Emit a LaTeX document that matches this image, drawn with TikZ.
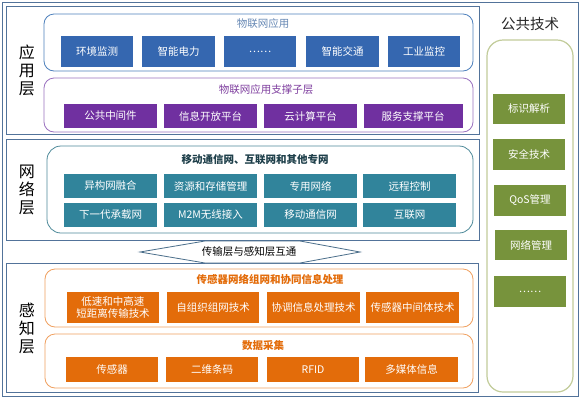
\documentclass[tikz,border=0pt]{standalone}
\usepackage{fontspec}
\setmainfont{Noto Sans CJK SC}
\definecolor{framec}{HTML}{52739A}
\definecolor{bluef}{HTML}{3567B0}
\definecolor{bluel}{HTML}{4F81BD}
\definecolor{bluet}{HTML}{6688B4}
\definecolor{purf}{HTML}{7030A0}
\definecolor{purl}{HTML}{9B72C0}
\definecolor{purt}{HTML}{7F3F9F}
\definecolor{tealf}{HTML}{31849B}
\definecolor{teall}{HTML}{4E8A9A}
\definecolor{tealt}{HTML}{1E3F4A}
\definecolor{oranf}{HTML}{E36C0A}
\definecolor{oranl}{HTML}{F0A060}
\definecolor{grnf}{HTML}{77933C}
\definecolor{grnl}{HTML}{C2CC9A}
\definecolor{arrl}{HTML}{4A6E8A}
\tikzset{
  cell/.style={inner sep=0pt, text=white, font=\fontsize{10.5}{12}\selectfont, align=center},
  bluebox/.style={cell, fill=bluef, minimum width=72.5pt, minimum height=31pt},
  purbox/.style={cell, fill=purf, minimum width=93pt, minimum height=24pt},
  tealbox/.style={cell, fill=tealf, minimum width=93pt, minimum height=24pt},
  oranbox/.style={cell, fill=oranf, minimum width=92.5pt},
  grnbox/.style={cell, fill=grnf, minimum width=72pt, minimum height=30.5pt},
  layer/.style={draw=framec, line width=0.8pt},
  cont/.style={line width=0.8pt, rounded corners=10pt},
  title/.style={inner sep=0pt, font=\fontsize{10.5}{12}\selectfont},
  lab/.style={inner sep=0pt, align=center, font=\fontsize{16}{18}\selectfont}
}
\begin{document}
\begin{tikzpicture}[x=1pt,y=-1pt]
\useasboundingbox (0,0) rectangle (582,400);
\fill[white] (0,0) rectangle (582,400);
% frames
\draw[framec, line width=0.8pt] (2,2) rectangle (578,396);
\draw[layer] (6,6) rectangle (479,134);
\draw[layer] (6,139) rectangle (479,240);
\draw[layer] (6,263) rectangle (478,392);
% layer labels
\node[lab] (l1) at (27,70) {应\\用\\层};
\node[lab] (l2) at (27,190) {网\\络\\层};
\node[lab] (l3) at (27,328) {感\\知\\层};
% application layer
\draw[cont, draw=bluel] (44,14) rectangle (473,71);
\node[title, text=bluet] (t1) at (263,24) {物联网应用};
\node[bluebox] (a1) at (97,51.5) {环境监测};
\node[bluebox] (a2) at (178.5,51.5) {智能电力};
\node[bluebox] (a3) at (260,51.5) {……};
\node[bluebox] (a4) at (342.5,51.5) {智能交通};
\node[bluebox] (a5) at (424,51.5) {工业监控};
\draw[cont, draw=purl] (44,78) rectangle (473,132);
\node[title, text=purt] (t2) at (266,90) {物联网应用支撑子层};
\node[purbox] (p1) at (110.5,116) {公共中间件};
\node[purbox] (p2) at (210.5,116) {信息开放平台};
\node[purbox] (p3) at (310.5,116) {云计算平台};
\node[purbox, minimum width=99pt] (p4) at (413,116) {服务支撑平台};
% network layer
\draw[cont, draw=teall, rounded corners=14pt] (47,146) rectangle (473,233);
\node[title, text=tealt, font=\fontsize{10.5}{12}\selectfont\bfseries] (t3) at (255,160) {移动通信网、互联网和其他专网};
\node[tealbox] (n1) at (110.5,186) {异构网融合};
\node[tealbox] (n2) at (210.5,186) {资源和存储管理};
\node[tealbox] (n3) at (310.5,186) {专用网络};
\node[tealbox] (n4) at (409.5,186) {远程控制};
\node[tealbox] (n5) at (110.5,215) {下一代承载网};
\node[tealbox] (n6) at (210.5,215) {M2M无线接入};
\node[tealbox] (n7) at (310.5,215) {移动通信网};
\node[tealbox] (n8) at (409.5,215) {互联网};
% interconnect arrow
\draw[draw=arrl, fill=white, line width=0.8pt] (140,252) -- (205,241) -- (300,241) -- (360,252) -- (300,263) -- (205,263) -- cycle;
\node[title] (arrtxt) at (249,252) {传输层与感知层互通};
% perception layer
\draw[cont, draw=oranl] (45,269) rectangle (473,327);
\node[title, text=oranf, font=\fontsize{10.5}{12}\selectfont\bfseries] (t4) at (270,279) {传感器网络组网和协同信息处理};
\node[oranbox, minimum height=31pt, font=\fontsize{10.5}{12.5}\selectfont] (s1) at (113,307.5) {低速和中高速\\短距离传输技术};
\node[oranbox, minimum height=31pt] (s2) at (213,307.5) {自组织组网技术};
\node[oranbox, minimum height=31pt] (s3) at (313.5,307.5) {协调信息处理技术};
\node[oranbox, minimum height=31pt] (s4) at (412.5,307.5) {传感器中间体技术};
\draw[cont, draw=oranl] (45,334) rectangle (473,388);
\node[title, text=oranf, font=\fontsize{10.5}{12}\selectfont\bfseries] (t5) at (263,346) {数据采集};
\node[oranbox, minimum height=25pt] (d1) at (112,369.5) {传感器};
\node[oranbox, minimum height=25pt] (d2) at (212,369.5) {二维条码};
\node[oranbox, minimum height=25pt] (d3) at (313,369.5) {RFID};
\node[oranbox, minimum height=25pt] (d4) at (411.5,369.5) {多媒体信息};
% public technology
\node[inner sep=0pt, font=\fontsize{14.5}{16}\selectfont, text=black!85] (pt) at (530,24) {公共技术};
\draw[draw=grnl, line width=1.2pt, rounded corners=16pt] (487,40) rectangle (573,392);
\node[grnbox] (g1) at (529,109) {标识解析};
\node[grnbox] (g2) at (529,154.5) {安全技术};
\node[grnbox] (g3) at (530,200.5) {QoS管理};
\node[grnbox] (g4) at (531,245) {网络管理};
\node[grnbox] (g5) at (530,291.5) {……};
\end{tikzpicture}
\end{document}
